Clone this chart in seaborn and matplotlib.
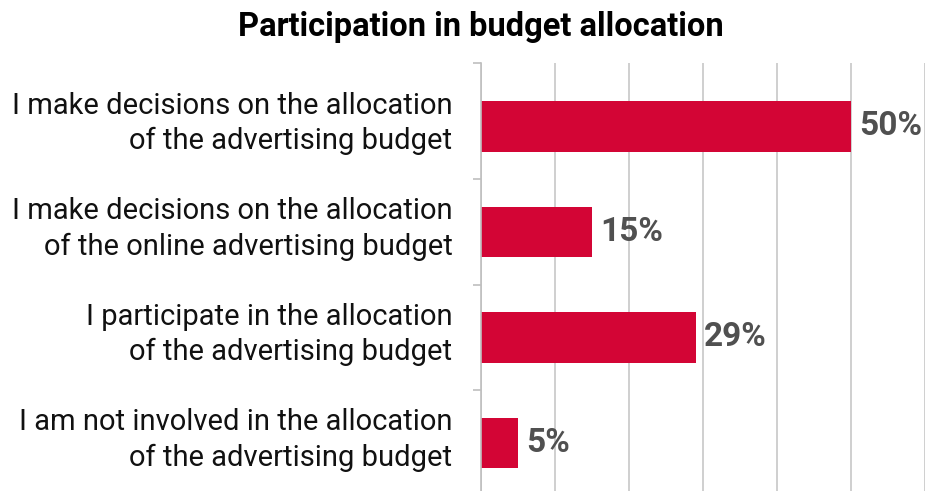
import matplotlib
matplotlib.use("Agg")
import matplotlib.pyplot as plt
from matplotlib.transforms import ScaledTranslation
import seaborn as sns
import pandas as pd

categories = [
    "I make decisions on the allocation\nof the advertising budget",
    "I make decisions on the allocation\nof the online advertising budget",
    "I participate in the allocation\nof the advertising budget",
    "I am not involved in the allocation\nof the advertising budget",
]
shares = [50, 15, 29, 5]
title = "Participation in budget allocation"

df = pd.DataFrame({"category": categories, "share": shares})

sns.set_theme(style="white")
plt.rcParams["font.family"] = ["Roboto", "DejaVu Sans"]

fig = plt.figure(figsize=(9.25, 4.91), dpi=100)
ax = fig.add_axes([481 / 925, 0.0, 444 / 925, (491 - 63) / 491])

sns.barplot(data=df, x="share", y="category", orient="h", color="#D30535",
            saturation=1, width=0.48, edgecolor="none", linewidth=0, ax=ax)

ax.set_xlim(0, 60)
ax.set_ylim(3.455, -0.6)
ax.set_xticks(range(0, 61, 10))
ax.xaxis.grid(True, color="#cfcfcf", linewidth=1.4)
ax.set_axisbelow(True)
ax.tick_params(axis="x", bottom=False, labelbottom=False)

# category labels on major ticks without tick marks, separators as minor ticks
ax.tick_params(axis="y", which="major", left=False, pad=14.5, labelsize=21,
               labelcolor="#111111")
ax.set_yticks([-0.6, 0.5, 1.5, 2.5], minor=True)
ax.tick_params(axis="y", which="minor", left=True, length=6, width=1.2,
               color="#bfbfbf")
lift = ScaledTranslation(0, 9.5 / 100, fig.dpi_scale_trans)
for lab in ax.get_yticklabels():
    lab.set_multialignment("right")
    lab.set_linespacing(1.32)
    lab.set_transform(lab.get_transform() + lift)

for side in ["top", "right", "bottom"]:
    ax.spines[side].set_visible(False)
ax.spines["left"].set_color("#bfbfbf")
ax.spines["left"].set_linewidth(1.2)
ax.set_xlabel("")
ax.set_ylabel("")

for i, v in enumerate(shares):
    ax.text(v + 1.1, i, f"{v}%", va="center", ha="left", fontsize=24,
            fontweight="bold", color="#505050")

fig.text(481 / 925, 1 - 27 / 491, title, ha="center", va="center",
         fontsize=23.5, fontweight="bold", color="#000000")

fig.savefig("out.png", dpi=100)
